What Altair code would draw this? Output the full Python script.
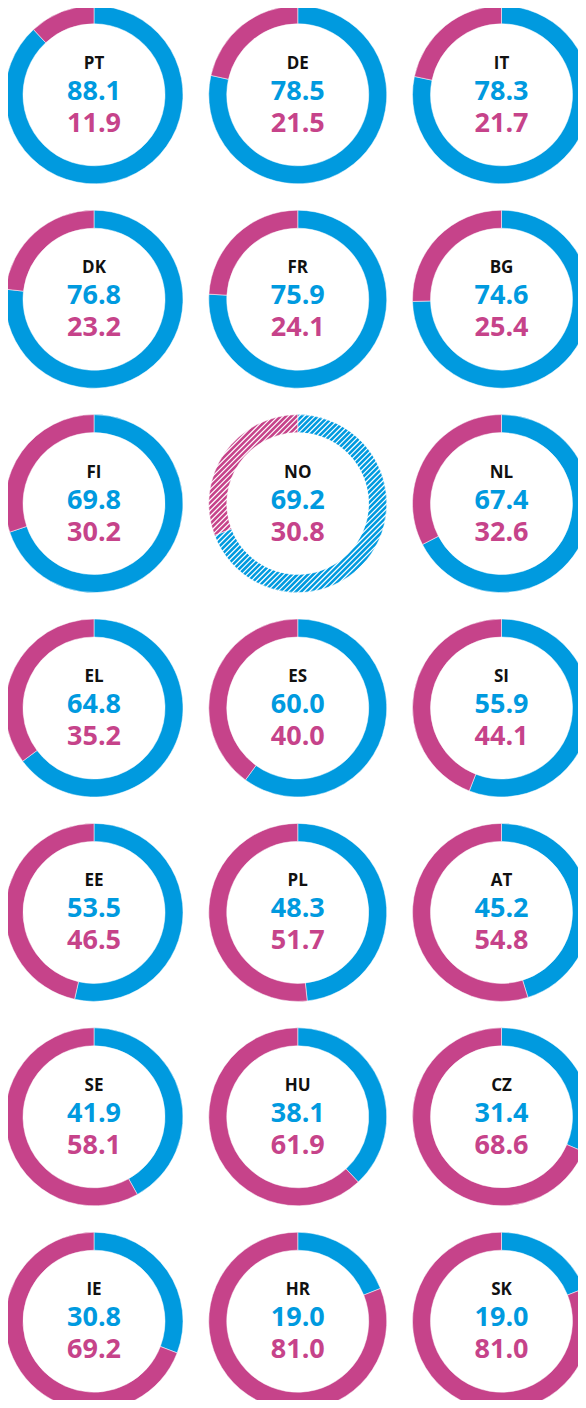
import altair as alt
import pandas as pd
import numpy as np

countries = ["PT", "DE", "IT", "DK", "FR", "BG", "FI", "NO", "NL", "EL", "ES",
             "SI", "EE", "PL", "AT", "SE", "HU", "CZ", "IE", "HR", "SK"]
blue_vals = [88.1, 78.5, 78.3, 76.8, 75.9, 74.6, 69.8, 69.2, 67.4, 64.8, 60.0,
             55.9, 53.5, 48.3, 45.2, 41.9, 38.1, 31.4, 30.8, 19.0, 19.0]
pink_vals = [11.9, 21.5, 21.7, 23.2, 24.1, 25.4, 30.2, 30.8, 32.6, 35.2, 40.0,
             44.1, 46.5, 51.7, 54.8, 58.1, 61.9, 68.6, 69.2, 81.0, 81.0]
hatched_countries = ["NO"]

BLUE = "#009ADF"
PINK = "#C6438A"

N_COLS = 3
df = pd.DataFrame({
    "country": countries,
    "blue": blue_vals,
    "pink": pink_vals,
    "col": [i % N_COLS for i in range(len(countries))],
    "row": [i // N_COLS for i in range(len(countries))],
})

# layout (pixels) - keep the page within 586x1408 so it is not rescaled
W, H = 570, 1392
X0, DX = 86.0, 203.75          # first column centre, column pitch
Y0, DY = 86.8, 204.4           # first row centre, row pitch
R_OUT, R_IN = 89, 71

xscale = alt.Scale(domain=[0, N_COLS - 1], range=[X0, X0 + DX * (N_COLS - 1)])
n_rows = int(df["row"].max()) + 1
yscale = alt.Scale(domain=[0, n_rows - 1], range=[Y0, Y0 + DY * (n_rows - 1)])

xenc = alt.X("col:Q", scale=xscale, axis=None)
yenc = alt.Y("row:Q", scale=yscale, axis=None)

base = alt.Chart(df)

arcs = base.transform_fold(
    ["blue", "pink"], as_=["part", "value"]
).transform_calculate(
    start="datum.part == 'blue' ? 0 : datum.blue",
    end="datum.part == 'blue' ? datum.blue : datum.blue + datum.pink",
).mark_arc(outerRadius=R_OUT, innerRadius=R_IN, stroke="white", strokeWidth=0.5).encode(
    x=xenc,
    y=yenc,
    theta=alt.Theta("start:Q", scale=alt.Scale(domain=[0, 100]), stack=None),
    theta2="end:Q",
    color=alt.Color("part:N", scale=alt.Scale(domain=["blue", "pink"], range=[BLUE, PINK]), legend=None),
)

# diagonal white hatch stripes (pattern), clipped to the ring's outer circle
hatch_step = 5.3
hatch_offsets = [float(v) for v in np.arange(-126, 127, hatch_step)]
RH = R_OUT + 0.5
hatch = base.transform_filter(
    alt.FieldOneOfPredicate(field="country", oneOf=hatched_countries)
).transform_calculate(
    offs=str(hatch_offsets)
).transform_flatten(["offs"]).transform_calculate(
    s=f"sqrt(max(0, {2 * RH * RH} - datum.offs * datum.offs))",
).transform_calculate(
    px1="(-datum.offs - datum.s) / 2",
    px2="(-datum.offs + datum.s) / 2",
).transform_calculate(
    hx1=f"datum.col + datum.px1 / {DX}",
    hx2=f"datum.col + datum.px2 / {DX}",
    hy1=f"datum.row - (datum.px1 + datum.offs) / {DY}",
    hy2=f"datum.row - (datum.px2 + datum.offs) / {DY}",
).mark_rule(color="white", strokeWidth=1.2).encode(
    x=alt.X("hx1:Q", scale=xscale, axis=None),
    x2="hx2:Q",
    y=alt.Y("hy1:Q", scale=yscale, axis=None),
    y2="hy2:Q",
)

label = base.mark_text(font="Open Sans", fontWeight="bold", fontSize=17,
                       color="#111111", baseline="alphabetic", align="center", dy=-26).encode(
    x=xenc, y=yenc, text="country:N"
)
blue_txt = base.mark_text(font="Open Sans", fontWeight="bold", fontSize=27,
                          color=BLUE, baseline="alphabetic", align="center", dy=5).encode(
    x=xenc, y=yenc, text=alt.Text("blue:Q", format=".1f")
)
pink_txt = base.mark_text(font="Open Sans", fontWeight="bold", fontSize=27,
                          color=PINK, baseline="alphabetic", align="center", dy=37).encode(
    x=xenc, y=yenc, text=alt.Text("pink:Q", format=".1f")
)

chart = alt.layer(arcs, hatch, label, blue_txt, pink_txt).properties(
    width=W,
    height=H,
    padding={"left": 0, "top": 0, "right": 0, "bottom": 0},
    autosize=alt.AutoSizeParams(type="none"),
).configure_view(strokeWidth=0)

chart.save("out.html", embed_options={"renderer": "svg", "actions": False})
